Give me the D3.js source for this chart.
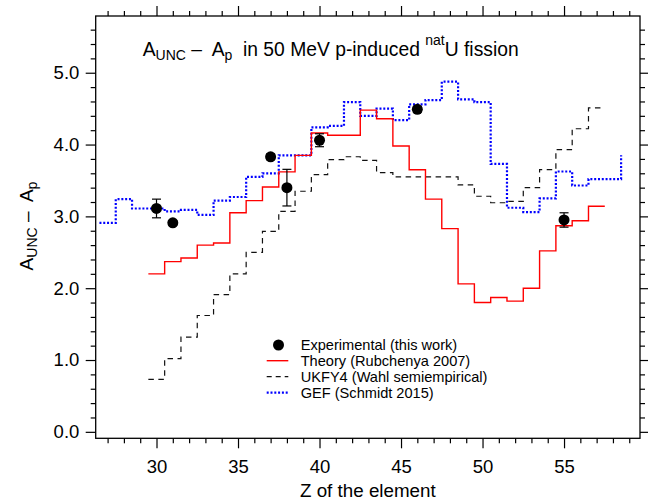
<!DOCTYPE html>
<html lang="en">
<head>
<meta charset="utf-8" />
<title>A_UNC - A_p in 50 MeV p-induced natU fission</title>
<script src="https://d3js.org/d3.v7.min.js"></script>
<style>
    html, body { margin:0; padding:0; background:#fff; overflow:hidden; }
    svg { display:block; font-family: "Liberation Sans", Arial, sans-serif; }
    .axis text { font-size: 18.5px; fill: #000; }
    .axis line { stroke: #000; stroke-width: 1.2; }
</style>
</head>
<body>
<svg id="svg" width="648" height="501"></svg>
<script>

// ---- data ----
// experimental points
let expZ   = [30, 31, 37, 38, 40, 46, 55];
let expVal = [3.11, 2.91, 3.83, 3.40, 4.06, 4.49, 2.95];
let expErr = [0.13, 0.03, 0.04, 0.255, 0.09, 0.04, 0.10];

// Theory (Rubchenya 2007)
let theoryZ   = [30,31,32,33,34,35,36,37,38,39,40,41,42,43,44,45,46,47,48,49,50,51,52,53,54,55,56,57];
let theoryVal = [2.20,2.37,2.42,2.60,2.63,3.05,3.22,3.41,3.62,3.85,4.16,4.13,4.13,4.48,4.36,3.98,
                 3.65,3.24,2.83,2.06,1.80,1.87,1.82,2.00,2.52,2.87,2.94,3.14];

// UKFY4 (Wahl semiempirical)
let ukfyZ   = [30,31,32,33,34,35,36,37,38,39,40,41,42,43,44,45,46,47,48,49,50,51,52,53,54,55,56,57];
let ukfyVal = [0.73,1.02,1.32,1.62,1.91,2.20,2.50,2.79,3.07,3.35,3.58,3.79,3.83,3.78,3.61,3.55,
               3.55,3.55,3.55,3.44,3.28,3.19,3.21,3.40,3.65,3.93,4.22,4.51];

// GEF (Schmidt 2015) - last value only shows as the final rise
let gefZ   = [27,28,29,30,31,32,33,34,35,36,37,38,39,40,41,42,43,44,45,46,47,48,49,50,51,52,53,54,55,56,57,58,59];
let gefVal = [2.91,3.24,3.11,3.11,3.07,3.09,3.02,3.22,3.27,3.55,3.60,3.85,3.85,4.24,4.26,4.59,4.40,
              4.50,4.34,4.56,4.62,4.875,4.63,4.59,3.73,3.12,3.06,3.25,3.625,3.43,3.52,3.52,3.85];

let xMajor = [30, 35, 40, 45, 50, 55];
let xMinor = [27,28,29,31,32,33,34,36,37,38,39,41,42,43,44,46,47,48,49,51,52,53,54,56,57,58,59];
let yMajor = [0, 1, 2, 3, 4, 5];
let yMinor = [0.2,0.4,0.6,0.8,1.2,1.4,1.6,1.8,2.2,2.4,2.6,2.8,3.2,3.4,3.6,3.8,4.2,4.4,4.6,4.8,5.2,5.4,5.6];

let legendLabels = ["Experimental (this work)", "Theory (Rubchenya 2007)",
                    "UKFY4 (Wahl semiempirical)", "GEF (Schmidt 2015)"];

// ---- layout ----
let pLeft = 95.7, pRight = 640, pTop = 16, pBottom = 438.3;

let svg = d3.select("#svg");

let x = d3.scaleLinear().domain([26.27, 59.66]).range([pLeft, pRight]);
let y = d3.scaleLinear().domain([-0.09, 5.79]).range([pBottom, pTop]);

// axes: ticks outside on all four sides
function noLabel() { return ""; }

svg.append("g").attr("class", "axis")
    .attr("transform", `translate(0,${pBottom})`)
    .call(d3.axisBottom(x).tickValues(xMajor).tickSize(10).tickPadding(11.5).tickFormat(d3.format("d")))
    .call(g => g.select(".domain").remove());
svg.append("g").attr("class", "axis")
    .attr("transform", `translate(0,${pBottom})`)
    .call(d3.axisBottom(x).tickValues(xMinor).tickSize(5).tickFormat(noLabel))
    .call(g => g.select(".domain").remove());
svg.append("g").attr("class", "axis")
    .attr("transform", `translate(0,${pTop})`)
    .call(d3.axisTop(x).tickValues(xMajor).tickSize(10).tickFormat(noLabel))
    .call(g => g.select(".domain").remove());
svg.append("g").attr("class", "axis")
    .attr("transform", `translate(0,${pTop})`)
    .call(d3.axisTop(x).tickValues(xMinor).tickSize(5).tickFormat(noLabel))
    .call(g => g.select(".domain").remove());

svg.append("g").attr("class", "axis")
    .attr("transform", `translate(${pLeft},0)`)
    .call(d3.axisLeft(y).tickValues(yMajor).tickSize(10).tickPadding(6.4).tickFormat(d3.format(".1f")))
    .call(g => g.select(".domain").remove());
svg.append("g").attr("class", "axis")
    .attr("transform", `translate(${pLeft},0)`)
    .call(d3.axisLeft(y).tickValues(yMinor).tickSize(5).tickFormat(noLabel))
    .call(g => g.select(".domain").remove());
svg.append("g").attr("class", "axis")
    .attr("transform", `translate(${pRight},0)`)
    .call(d3.axisRight(y).tickValues(yMajor).tickSize(10).tickFormat(noLabel))
    .call(g => g.select(".domain").remove());
svg.append("g").attr("class", "axis")
    .attr("transform", `translate(${pRight},0)`)
    .call(d3.axisRight(y).tickValues(yMinor).tickSize(5).tickFormat(noLabel))
    .call(g => g.select(".domain").remove());

svg.append("rect")
    .attr("x", pLeft).attr("y", pTop)
    .attr("width", pRight - pLeft).attr("height", pBottom - pTop)
    .attr("fill", "none").attr("stroke", "#000").attr("stroke-width", 1.3);

// step lines (each Z covers Z-0.5 .. Z+0.5)
function stepPoints(zs, vs, closeEnd) {
    let pts = zs.map((z, i) => [z - 0.5, vs[i]]);
    if (closeEnd) pts.push([zs[zs.length - 1] + 0.5, vs[vs.length - 1]]);
    return pts;
}
let step = d3.line()
    .x(d => x(d[0]))
    .y(d => y(d[1]))
    .curve(d3.curveStepAfter);

let plot = svg.append("g");

plot.append("path")
    .attr("d", step(stepPoints(ukfyZ, ukfyVal, true)))
    .attr("fill", "none").attr("stroke", "#111").attr("stroke-width", 1.2)
    .attr("stroke-dasharray", "5.5,4.5");

plot.append("path")
    .attr("d", step(stepPoints(gefZ, gefVal, false)))
    .attr("fill", "none").attr("stroke", "#0000ff").attr("stroke-width", 2.2)
    .attr("stroke-dasharray", "2,1.8");

plot.append("path")
    .attr("d", step(stepPoints(theoryZ, theoryVal, true)))
    .attr("fill", "none").attr("stroke", "#ff0000").attr("stroke-width", 1.4);

// experimental points with error bars
let expData = expZ.map((z, i) => ({z: z, v: expVal[i], e: expErr[i]}));
let eb = plot.selectAll(".err").data(expData).join("g").attr("class", "err")
    .attr("stroke", "#000").attr("stroke-width", 1.2);
eb.append("line")
    .attr("x1", d => x(d.z)).attr("x2", d => x(d.z))
    .attr("y1", d => y(d.v - d.e)).attr("y2", d => y(d.v + d.e));
eb.append("line")
    .attr("x1", d => x(d.z) - 4.5).attr("x2", d => x(d.z) + 4.5)
    .attr("y1", d => y(d.v - d.e)).attr("y2", d => y(d.v - d.e));
eb.append("line")
    .attr("x1", d => x(d.z) - 4.5).attr("x2", d => x(d.z) + 4.5)
    .attr("y1", d => y(d.v + d.e)).attr("y2", d => y(d.v + d.e));
plot.selectAll(".pt").data(expData).join("circle").attr("class", "pt")
    .attr("cx", d => x(d.z)).attr("cy", d => y(d.v))
    .attr("r", 5.5).attr("fill", "#000");

// title
let title = svg.append("text")
    .attr("x", 142.7).attr("y", 56)
    .attr("font-size", 19.3)
    .style("white-space", "pre");
title.append("tspan").text("A");
title.append("tspan").attr("font-size", 14).attr("dy", 4).text("UNC");
title.append("tspan").attr("dy", -4).text(" \u2013  A");
title.append("tspan").attr("font-size", 14).attr("dy", 4).text("p");
title.append("tspan").attr("dy", -4).text("  in 50 MeV p-induced ");
title.append("tspan").attr("font-size", 14).attr("dy", -11).text("nat");
title.append("tspan").attr("dy", 11).text("U fission");

// axis titles
svg.append("text")
    .attr("x", (pLeft + pRight) / 2).attr("y", 496.7)
    .attr("text-anchor", "middle").attr("font-size", 18.8)
    .text("Z of the element");

let ytitle = svg.append("text")
    .attr("transform", `translate(33,226) rotate(-90)`)
    .attr("text-anchor", "middle").attr("font-size", 19)
    .style("white-space", "pre");
ytitle.append("tspan").text("A");
ytitle.append("tspan").attr("font-size", 14).attr("dy", 4).text("UNC");
ytitle.append("tspan").attr("dy", -4).text(" \u2013  A");
ytitle.append("tspan").attr("font-size", 14).attr("dy", 4).text("p");

// legend
let lg = svg.append("g");
let rowY = [345, 360.7, 376.7, 392.7];
let lineX1 = 266.7, lineX2 = 288.3, textX = 300.7;

lg.append("circle").attr("cx", (lineX1 + lineX2) / 2 + 1).attr("cy", rowY[0]).attr("r", 5.5).attr("fill", "#000");
lg.append("line").attr("x1", lineX1).attr("x2", lineX2).attr("y1", rowY[1]).attr("y2", rowY[1])
    .attr("stroke", "#ff0000").attr("stroke-width", 1.4);
lg.append("line").attr("x1", lineX1).attr("x2", lineX2).attr("y1", rowY[2]).attr("y2", rowY[2])
    .attr("stroke", "#111").attr("stroke-width", 1.2).attr("stroke-dasharray", "5,4");
lg.append("line").attr("x1", lineX1).attr("x2", lineX2).attr("y1", rowY[3]).attr("y2", rowY[3])
    .attr("stroke", "#0000ff").attr("stroke-width", 2.2).attr("stroke-dasharray", "2,1.8");

lg.selectAll(".lt").data(legendLabels).join("text").attr("class", "lt")
    .attr("x", textX).attr("y", (d, i) => rowY[i] + 5.2)
    .attr("font-size", 14.6)
    .text(d => d);

</script>
</body>
</html>
